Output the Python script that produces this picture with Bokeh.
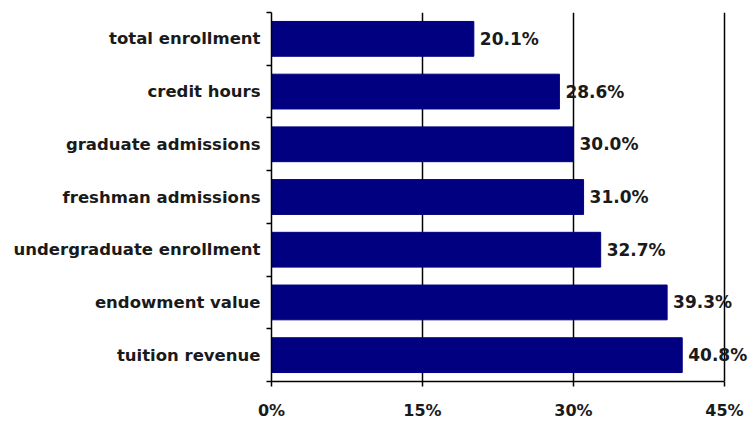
from bokeh.plotting import figure
from bokeh.models import Range1d, FixedTicker, NumeralTickFormatter, ColumnDataSource, LabelSet
from bokeh.core.properties import value
from bokeh.embed import file_html
from bokeh.resources import INLINE

categories = ["total enrollment", "credit hours", "graduate admissions",
              "freshman admissions", "undergraduate enrollment",
              "endowment value", "tuition revenue"]
values = [0.201, 0.286, 0.300, 0.310, 0.327, 0.393, 0.408]
value_labels = ["20.1%", "28.6%", "30.0%", "31.0%", "32.7%", "39.3%", "40.8%"]
x_ticks = [0, 0.15, 0.30, 0.45]

n = len(categories)
# first category at the top
ypos = [n - i - 0.5 for i in range(n)]

src = ColumnDataSource(dict(cat=categories, val=values, lab=value_labels, y=ypos))

FONT = "DejaVu Sans"

# frame spans 271..749 px; axis itself is bounded to 0..45%
X_MAX = 0.45 * (749 - 271) / (724 - 271)

p = figure(width=749, height=423, output_backend="svg", toolbar_location=None,
           x_range=Range1d(0, X_MAX), y_range=Range1d(0, n),
           min_border_left=271, min_border_right=0, min_border_top=12,
           min_border_bottom=42)
p.outline_line_color = None
p.background_fill_color = "white"
p.border_fill_color = "white"

p.hbar(y="y", right="val", left=0, height=0.66, source=src,
       fill_color="#000080", line_color="#000080")

labels = LabelSet(x="val", y="y", text="lab", source=src, x_offset=6,
                  text_baseline="middle", text_align="left",
                  text_font=value(FONT), text_font_style="bold",
                  text_font_size="17px", text_color="#1a1a1a")
p.add_layout(labels)

# x axis
p.xaxis.bounds = (0, 0.45)
p.xaxis.ticker = FixedTicker(ticks=x_ticks)
p.xaxis.formatter = NumeralTickFormatter(format="0%")
p.xaxis.axis_line_color = "black"
p.xaxis.axis_line_width = 1.5
p.xaxis.major_tick_line_color = "black"
p.xaxis.major_tick_line_width = 1.5
p.xaxis.major_tick_out = 5
p.xaxis.major_tick_in = 0
p.xaxis.minor_tick_line_color = None
p.xaxis.major_label_text_font = FONT
p.xaxis.major_label_text_font_style = "bold"
p.xaxis.major_label_text_font_size = "16px"
p.xaxis.major_label_text_color = "#1a1a1a"
p.xaxis.major_label_standoff = 14

# y axis: labels at centres, ticks at boundaries (minor)
p.yaxis.ticker = FixedTicker(ticks=ypos, minor_ticks=list(range(n + 1)))
p.yaxis.major_label_overrides = {y: c for y, c in zip(ypos, categories)}
p.yaxis.axis_line_color = "black"
p.yaxis.axis_line_width = 1.5
p.yaxis.major_tick_line_color = None
p.yaxis.major_tick_out = 0
p.yaxis.major_tick_in = 0
p.yaxis.minor_tick_line_color = "black"
p.yaxis.minor_tick_line_width = 1.5
p.yaxis.minor_tick_out = 5
p.yaxis.minor_tick_in = 0
p.yaxis.major_label_text_font = FONT
p.yaxis.major_label_text_font_style = "bold"
p.yaxis.major_label_text_font_size = "16.5px"
p.yaxis.major_label_text_color = "#1a1a1a"
p.yaxis.major_label_standoff = 6

p.xgrid.ticker = FixedTicker(ticks=x_ticks)
p.xgrid.grid_line_color = "black"
p.xgrid.grid_line_width = 1.5
p.ygrid.grid_line_color = None

open("out.html", "w").write(file_html(p, INLINE))
